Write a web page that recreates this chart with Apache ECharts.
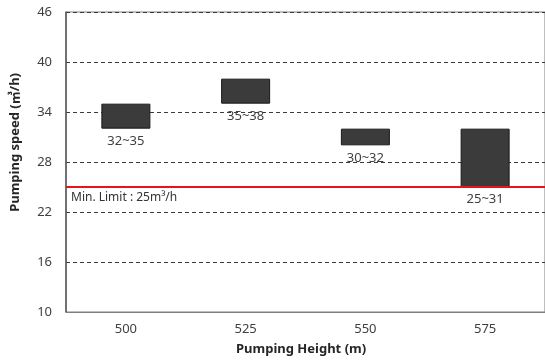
<!DOCTYPE html>
<html><head><meta charset="utf-8">
<script src="https://cdn.jsdelivr.net/npm/echarts@6/dist/echarts.min.js"></script>
<style>html,body{margin:0;padding:0;background:#fff}#c{width:545px;height:364px}</style>
</head><body><div id="c"></div>
<script>
const categories = ['500', '525', '550', '575'];
const lows = [32, 35, 30, 25];
const highs = [35, 38, 32, 32];
const rangeLabels = ['32~35', '35~38', '30~32', '25~31'];
const minLimit = 25;
const yTicks = [10, 16, 22, 28, 34, 40, 46];

const chart = echarts.init(document.getElementById('c'), null, {renderer: 'canvas'});
const font = 'Noto Sans';
chart.setOption({
  animation: false,
  grid: {left: 66, right: 0, top: 12, bottom: 52, show: true, borderColor: '#7f7f7f', borderWidth: 1},
  xAxis: {
    type: 'category', data: categories,
    axisLine: {show: true, lineStyle: {color: '#7f7f7f'}},
    axisTick: {show: false},
    axisLabel: {color: '#404040', fontSize: 13, fontFamily: font, margin: 11}
  },
  yAxis: {
    type: 'value', min: yTicks[0], max: yTicks[yTicks.length - 1], interval: 6,
    axisLine: {show: true, lineStyle: {color: '#595959', width: 1.5}},
    axisTick: {show: false},
    axisLabel: {color: '#404040', fontSize: 13, fontFamily: font, margin: 14},
    splitLine: {show: true, lineStyle: {color: '#3a3a3a', type: [4, 3], width: 1}}
  },
  graphic: [
    {type: 'text', left: 9, top: 73, rotation: Math.PI / 2, style: {
      text: 'Pumping speed (㎥/h)', fill: '#262626', font: 'bold 13px "Noto Sans", "Noto Sans CJK KR"'
    }, originX: 0, originY: 0},
    {type: 'text', left: 236, top: 343, style: {
      text: 'Pumping Height (m)', fill: '#262626', font: 'bold 13px "Noto Sans"'
    }}
  ],
  series: [
    {type: 'bar', stack: 'r', data: lows, itemStyle: {color: 'transparent'}, barWidth: 49, silent: true},
    {type: 'bar', stack: 'r', data: highs.map((h, i) => h - lows[i]), barWidth: 49,
      itemStyle: {color: '#3b3b3b', borderColor: '#1a1a1a', borderWidth: 1},
      label: {show: true, position: 'bottom', distance: 6, color: '#404040', fontSize: 13, fontFamily: font,
        formatter: p => rangeLabels[p.dataIndex]},
      markLine: {
        symbol: 'none', silent: true,
        lineStyle: {color: '#e8141b', width: 2, type: 'solid'},
        label: {show: true, position: 'insideStartBottom', distance: [5, 5], formatter: 'Min. Limit : 25m³/h',
          color: '#333', fontSize: 12, fontFamily: font},
        data: [{yAxis: minLimit}]
      }
    }
  ]
});
</script></body></html>
